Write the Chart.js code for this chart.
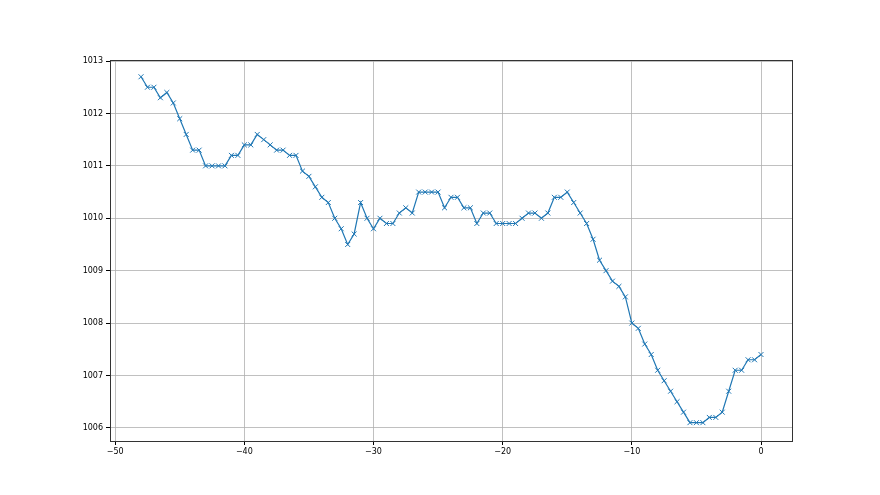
<!DOCTYPE html>
<html>
<head>
<meta charset="utf-8">
<script src="https://cdn.jsdelivr.net/npm/chart.js@4"></script>
<style>
    html, body { margin: 0; padding: 0; background: #fff; }
    #wrap { width: 880px; height: 495px; }
</style>
</head>
<body>
<div id="wrap"><canvas id="chart" width="880" height="495"></canvas></div>
<script>
const xValues = [
    -48, -47.5, -47, -46.5, -46, -45.5, -45, -44.5, -44, -43.5,
    -43, -42.5, -42, -41.5, -41, -40.5, -40, -39.5, -39, -38.5,
    -38, -37.5, -37, -36.5, -36, -35.5, -35, -34.5, -34, -33.5,
    -33, -32.5, -32, -31.5, -31, -30.5, -30, -29.5, -29, -28.5,
    -28, -27.5, -27, -26.5, -26, -25.5, -25, -24.5, -24, -23.5,
    -23, -22.5, -22, -21.5, -21, -20.5, -20, -19.5, -19, -18.5,
    -18, -17.5, -17, -16.5, -16, -15.5, -15, -14.5, -14, -13.5,
    -13, -12.5, -12, -11.5, -11, -10.5, -10, -9.5, -9, -8.5,
    -8, -7.5, -7, -6.5, -6, -5.5, -5, -4.5, -4, -3.5,
    -3, -2.5, -2, -1.5, -1, -0.5, 0,
];
const pressure = [
    1012.7, 1012.5, 1012.5, 1012.3, 1012.4, 1012.2, 1011.9, 1011.6, 1011.3, 1011.3,
    1011.0, 1011.0, 1011.0, 1011.0, 1011.2, 1011.2, 1011.4, 1011.4, 1011.6, 1011.5,
    1011.4, 1011.3, 1011.3, 1011.2, 1011.2, 1010.9, 1010.8, 1010.6, 1010.4, 1010.3,
    1010.0, 1009.8, 1009.5, 1009.7, 1010.3, 1010.0, 1009.8, 1010.0, 1009.9, 1009.9,
    1010.1, 1010.2, 1010.1, 1010.5, 1010.5, 1010.5, 1010.5, 1010.2, 1010.4, 1010.4,
    1010.2, 1010.2, 1009.9, 1010.1, 1010.1, 1009.9, 1009.9, 1009.9, 1009.9, 1010.0,
    1010.1, 1010.1, 1010.0, 1010.1, 1010.4, 1010.4, 1010.5, 1010.3, 1010.1, 1009.9,
    1009.6, 1009.2, 1009.0, 1008.8, 1008.7, 1008.5, 1008.0, 1007.9, 1007.6, 1007.4,
    1007.1, 1006.9, 1006.7, 1006.5, 1006.3, 1006.1, 1006.1, 1006.1, 1006.2, 1006.2,
    1006.3, 1006.7, 1007.1, 1007.1, 1007.3, 1007.3, 1007.4,
];
const xTicks = [-50, -40, -30, -20, -10, 0];
const yTicks = [1006, 1007, 1008, 1009, 1010, 1011, 1012, 1013];

const LINE_COLOR = '#1f77b4';
const FONT = { family: 'DejaVu Sans', size: 8 };

// matplotlib-style box around the axes
const frame = {
    id: 'frame',
    afterDraw(chart) {
        const { ctx, chartArea: a } = chart;
        ctx.save();
        ctx.strokeStyle = '#333';
        ctx.lineWidth = 1;
        ctx.strokeRect(Math.round(a.left) + 0.5, Math.round(a.top) + 0.5,
            Math.round(a.right - a.left), Math.round(a.bottom - a.top));
        ctx.restore();
    },
};

new Chart(document.getElementById('chart'), {
    type: 'line',
    data: {
        datasets: [{
            data: xValues.map((x, i) => ({ x, y: pressure[i] })),
            borderColor: LINE_COLOR,
            backgroundColor: 'transparent',
            borderWidth: 1.2,
            tension: 0,
            pointStyle: 'crossRot',
            pointRadius: 3.5,
            pointBorderWidth: 1,
            pointBorderColor: LINE_COLOR,
            pointHoverRadius: 3.5,
        }],
    },
    options: {
        responsive: false,
        animation: false,
        layout: { padding: { left: 0, top: 60, right: 88, bottom: 0 } },
        plugins: { legend: { display: false }, tooltip: { enabled: false } },
        scales: {
            x: {
                type: 'linear',
                min: -50.4,
                max: 2.4,
                afterFit: s => { s.height = 54; },
                afterBuildTicks: s => { s.ticks = xTicks.map(v => ({ value: v })); },
                ticks: { color: '#000', font: FONT, padding: 2, maxRotation: 0, callback: v => String(v).replace('-', '\u2212') },
                grid: { color: '#b0b0b0', lineWidth: 0.8, tickLength: 4, tickColor: '#000', tickWidth: 1 },
                border: { display: false },
            },
            y: {
                type: 'linear',
                min: 1005.75,
                max: 1013.02,
                afterFit: s => { s.width = 110; },
                afterBuildTicks: s => { s.ticks = yTicks.map(v => ({ value: v })); },
                ticks: { color: '#000', font: FONT, padding: 3, callback: v => String(v) },
                grid: { color: '#b0b0b0', lineWidth: 0.8, tickLength: 4, tickColor: '#000', tickWidth: 1 },
                border: { display: false },
            },
        },
    },
    plugins: [frame],
});
</script>
</body>
</html>
